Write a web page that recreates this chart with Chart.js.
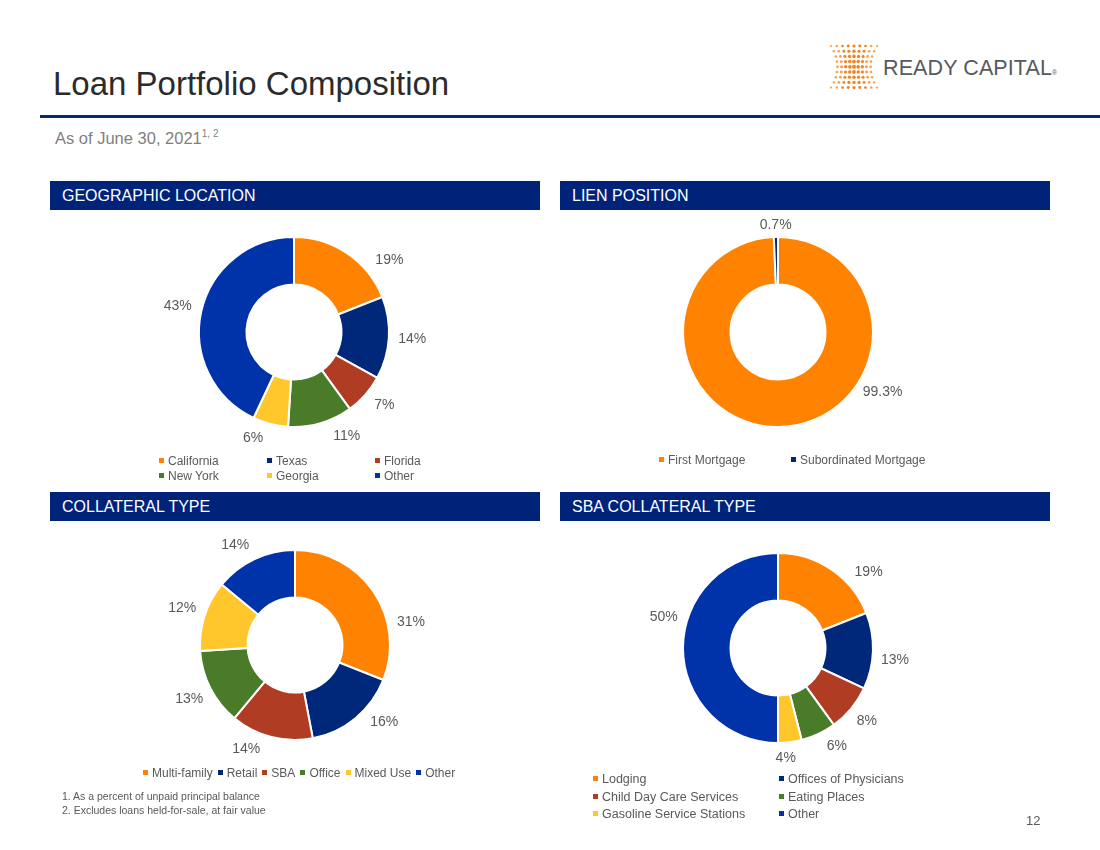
<!DOCTYPE html>
<html>
<head>
<meta charset="utf-8">
<script src="https://cdn.jsdelivr.net/npm/chart.js@4.4.1/dist/chart.umd.min.js"></script>
<style>
  html, body { margin: 0; padding: 0; background: #fff; }
  body { width: 1100px; height: 850px; position: relative; overflow: hidden; font-family: "Liberation Sans", Arial, sans-serif; }
  .abs { position: absolute; }
  #title { left: 53px; top: 64px; font-size: 33px; color: #2b2b2b; line-height: 40px; white-space: nowrap; }
  #rule { left: 40px; top: 115px; width: 1060px; height: 3px; background: #0A2A6E; }
  #asof { left: 55px; top: 128px; font-size: 16.5px; color: #7f7f7f; white-space: nowrap; line-height: 20px; }
  #asof sup { font-size: 10px; vertical-align: 0; position: relative; top: -7px; }
  .hdr { height: 29px; width: 490px; background: #00237A; color: #fff; font-size: 16px; line-height: 30px; box-sizing: border-box; padding-left: 12px; white-space: nowrap; }
  canvas.ch { position: absolute; }
  .leg { position: absolute; font-size: 12px; color: #595959; white-space: nowrap; line-height: 14px; }
  .leg .mk { display: inline-block; width: 5px; height: 5px; margin-right: 4px; vertical-align: 2px; }
  .foot { font-size: 10.5px; color: #595959; white-space: nowrap; line-height: 13px; }
  #logoText { left: 883px; top: 56px; font-size: 21.5px; color: #555a60; letter-spacing: 0.1px; white-space: nowrap; }
  #logoText small { font-size: 7px; letter-spacing: 0; }
</style>
</head>
<body>
<canvas id="logoDots" class="abs" width="54" height="50" style="left:827px;top:42px;"></canvas>
<div id="logoText" class="abs">READY CAPITAL<small>®</small></div>
<div id="title" class="abs">Loan Portfolio Composition</div>
<div id="rule" class="abs"></div>
<div id="asof" class="abs">As of June 30, 2021<sup>1, 2</sup></div>

<div class="abs hdr" style="left:50px;top:181px;">GEOGRAPHIC LOCATION</div>
<div class="abs hdr" style="left:560px;top:181px;">LIEN POSITION</div>
<div class="abs hdr" style="left:50px;top:492px;">COLLATERAL TYPE</div>
<div class="abs hdr" style="left:560px;top:492px;">SBA COLLATERAL TYPE</div>

<canvas id="c1" class="ch" width="300" height="300" style="left:144px;top:182px;width:300px;height:300px;"></canvas>
<canvas id="c2" class="ch" width="300" height="300" style="left:628px;top:182px;width:300px;height:300px;"></canvas>
<canvas id="c3" class="ch" width="300" height="300" style="left:145px;top:495px;width:300px;height:300px;"></canvas>
<canvas id="c4" class="ch" width="300" height="300" style="left:628px;top:498px;width:300px;height:300px;"></canvas>

<div id="leg1"></div>
<div id="leg2"></div>
<div id="leg3"></div>
<div id="leg4"></div>

<div class="abs foot" style="left:62px;top:790px;">1. As a percent of unpaid principal balance</div>
<div class="abs foot" style="left:62px;top:804px;">2. Excludes loans held-for-sale, at fair value</div>
<div class="abs" style="left:1026px;top:813px;font-size:13px;color:#595959;">12</div>

<script>
// ---------- DATA ----------
const geoLabels = ["California", "Texas", "Florida", "New York", "Georgia", "Other"];
const geoValues = [19, 14, 7, 11, 6, 43];

const lienLabels = ["First Mortgage", "Subordinated Mortgage"];
const lienValues = [99.3, 0.7];

const collLabels = ["Multi-family", "Retail", "SBA", "Office", "Mixed Use", "Other"];
const collValues = [31, 16, 14, 13, 12, 14];

const sbaLabels = ["Lodging", "Offices of Physicians", "Child Day Care Services", "Eating Places", "Gasoline Service Stations", "Other"];
const sbaValues = [19, 13, 8, 6, 4, 50];

// ---------- STYLE ----------
const palette6 = ["#FF8300", "#00287A", "#B13C24", "#4A7B29", "#FFC72C", "#0033AA"];
const palette2 = ["#FF8300", "#00287A"];

// Draws each slice's value outside the ring; optional per-slice angle (deg from 12 o'clock)
// mimics the hand-nudged label placement of the original slide.
const outerLabels = {
  id: 'outerLabels',
  afterDatasetsDraw(chart, args, opts) {
    const ctx = chart.ctx;
    const meta = chart.getDatasetMeta(0);
    const ds = chart.data.datasets[0];
    ctx.save();
    ctx.font = opts.font || '14px "Liberation Sans", Arial, sans-serif';
    ctx.fillStyle = opts.color || '#595959';
    ctx.textAlign = 'center';
    ctx.textBaseline = 'middle';
    meta.data.forEach((arc, i) => {
      const p = arc.getProps(['x', 'y', 'startAngle', 'endAngle', 'outerRadius'], true);
      let a = (p.startAngle + p.endAngle) / 2;
      if (opts.angles && opts.angles[i] != null) a = opts.angles[i] * Math.PI / 180 - Math.PI / 2;
      const text = ds.data[i] + '%';
      const w = ctx.measureText(text).width, h = 14;
      const d = p.outerRadius + (opts.gap || 8) + Math.abs(Math.cos(a)) * w / 2 + Math.abs(Math.sin(a)) * h / 2;
      ctx.fillText(text, p.x + Math.cos(a) * d, p.y + Math.sin(a) * d);
    });
    ctx.restore();
  }
};

function doughnut(id, labels, values, colors, labelOpts) {
  return new Chart(document.getElementById(id), {
    type: 'doughnut',
    data: { labels: labels, datasets: [{ data: values, backgroundColor: colors, borderColor: '#ffffff', borderWidth: 2 }] },
    options: {
      responsive: false,
      animation: false,
      events: [],
      cutout: '50%',
      layout: { padding: 54 },
      plugins: { legend: { display: false }, tooltip: { enabled: false }, outerLabels: labelOpts || {} }
    },
    plugins: [outerLabels]
  });
}

doughnut('c1', geoLabels, geoValues, palette6, { gap: 9, angles: [53, null, 129, 153, 201, null] });
doughnut('c2', lienLabels, lienValues, palette2, { gap: 5, angles: [120, null] });
doughnut('c3', collLabels, collValues, palette6, { gap: 8, angles: [79, 131, 205, null, null, 329] });
doughnut('c4', sbaLabels, sbaValues, palette6, { gap: 8, angles: [50, 96, null, 149, 176, 285] });

// ---------- LEGENDS (HTML, built from the arrays) ----------
function gridLegend(containerId, labels, colors, left, top, colW, rowH, cols, fontSize) {
  const c = document.getElementById(containerId);
  labels.forEach((lab, i) => {
    const el = document.createElement('div');
    el.className = 'leg';
    el.style.left = (left + (i % cols) * colW) + 'px';
    el.style.top = (top + Math.floor(i / cols) * rowH) + 'px';
    if (fontSize) el.style.fontSize = fontSize + 'px';
    el.innerHTML = '<span class="mk" style="background:' + colors[i] + '"></span>' + lab;
    c.appendChild(el);
  });
}
gridLegend('leg1', geoLabels, palette6, 159, 454, 108, 15, 3);
gridLegend('leg2', lienLabels, palette2, 659, 453, 132, 15, 2);
gridLegend('leg4', sbaLabels, palette6, 593, 772, 186, 17.5, 2, 12.5);
(function () {
  const c = document.getElementById('leg3');
  const row = document.createElement('div');
  row.className = 'leg';
  row.style.left = '143px';
  row.style.top = '766px';
  row.innerHTML = collLabels.map((lab, i) => '<span class="mk" style="background:' + palette6[i] + '"></span>' + lab).join('<span style="display:inline-block;width:5px"></span>');
  c.appendChild(row);
})();

// ---------- LOGO DOTS (decoration) ----------
(function () {
  const cv = document.getElementById('logoDots');
  const g = cv.getContext('2d');
  const rows = 9, cols = 9;
  for (let r = 0; r < rows; r++) {
    const t = (r - (rows - 1) / 2) / ((rows - 1) / 2);
    const pinch = 0.72 + 0.28 * t * t;
    for (let k = 0; k < cols; k++) {
      const u = (k - (cols - 1) / 2) / ((cols - 1) / 2);
      const x = 27 + u * 23 * pinch;
      const y = 4 + r * 5.2;
      const rad = 2.0 * (1 - 0.3 * Math.abs(u)) * (1 - 0.2 * Math.abs(t));
      g.fillStyle = (Math.abs(u) > 0.7) ? '#F5A04A' : '#EF8420';
      g.beginPath(); g.arc(x, y, rad, 0, Math.PI * 2); g.fill();
    }
  }
})();
</script>
</body>
</html>
